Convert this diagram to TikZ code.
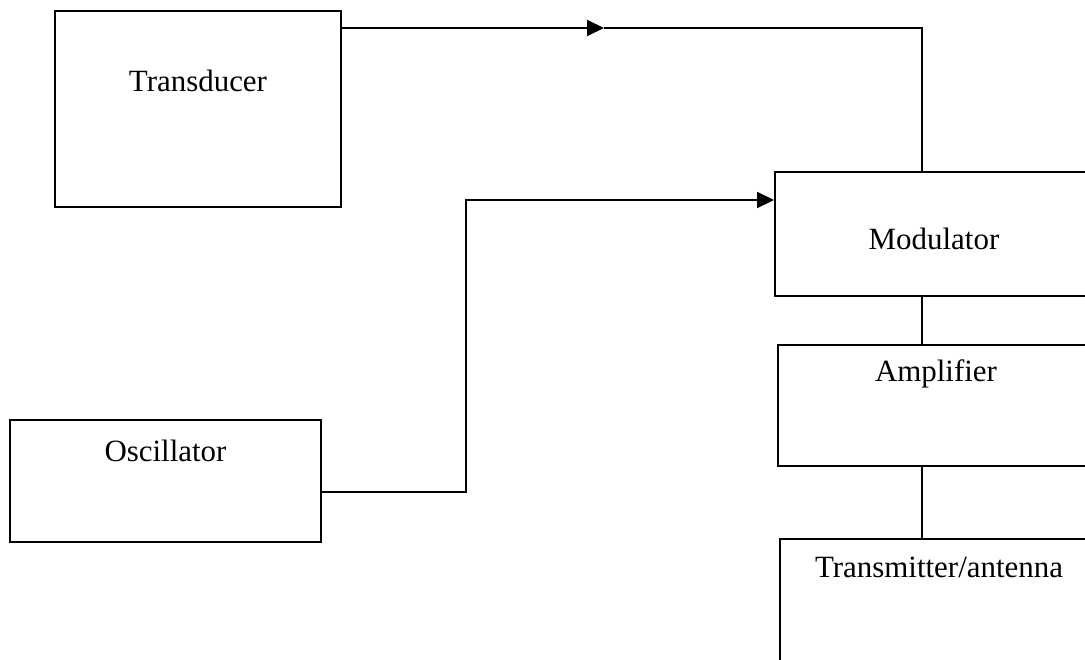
\documentclass[tikz,border=0pt]{standalone}
\usepackage{fontspec}
\setmainfont{Liberation Serif}
\usetikzlibrary{arrows.meta, positioning}

\begin{document}
\begin{tikzpicture}

\tikzset{block/.style = {shape=rectangle,draw,line width=1.1pt,inner sep=0pt}}
\tikzset{edge/.style = {line width=1.1pt,> = {Triangle[length=0.34cm,width=0.32cm]}}}
\tikzset{caption/.style = {font=\fontsize{17.6}{21}\selectfont}}
\clip (0,0) rectangle (21.7,13.18);
%blocks
\node[block, minimum width=5.72cm, minimum height=3.92cm,
  label={[caption, anchor=center, yshift=-1.42cm]north:Transducer}] (trans) at (3.96,11.0) {};
\node[block, minimum width=6.22cm, minimum height=2.44cm,
  label={[caption, anchor=center, yshift=-0.64cm]north:Oscillator}] (osc) at (3.31,3.56) {};
\node[block, minimum width=6.36cm, minimum height=2.48cm,
  label={[caption, anchor=center, yshift=-1.36cm]north:Modulator}] (mod) at (18.68,8.5) {};
\node[block, minimum width=6.32cm, minimum height=2.42cm,
  label={[caption, anchor=center, yshift=-0.6cm]north:Amplifier}] (amp) at (18.72,5.07) {};
\node[block, minimum width=6.36cm, minimum height=2.82cm,
  label={[caption, anchor=center, yshift=-0.58cm]north:Transmitter/antenna}] (tx) at (18.78,0.99) {};
%turning points
\coordinate (corner) at (18.44,12.62);
\coordinate (tip) at (12.08,12.62);
\coordinate (bend) at (9.32,3.34);
\coordinate (feed) at (9.32,9.18);
%edges
\draw [edge, ->] (trans.east |- tip) -- (tip);
\draw [edge] (tip) -- (corner) -- (corner |- mod.north);
\draw [edge, ->] (osc.east |- bend) -| (feed) -- (mod.west |- feed);
\draw [edge] (mod.south -| corner) -- (amp.north -| corner);
\draw [edge] (amp.south -| corner) -- (tx.north -| corner);

\end{tikzpicture}
\end{document}
